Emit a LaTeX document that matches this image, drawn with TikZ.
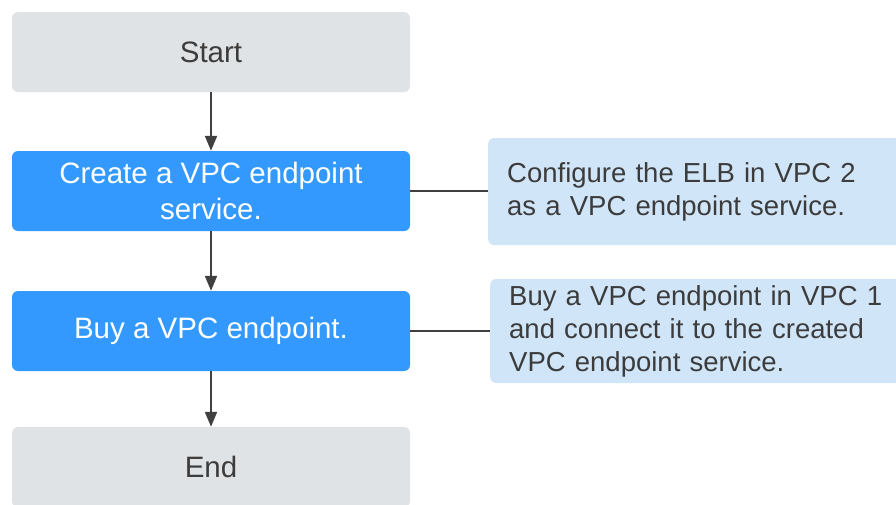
\documentclass[tikz,border=0pt]{standalone}
\usepackage{fontspec}
\setmainfont{Liberation Sans}
\usetikzlibrary{arrows.meta}
\definecolor{boxgray}{HTML}{E0E3E6}
\definecolor{stepblue}{HTML}{3399FF}
\definecolor{noteblue}{HTML}{D0E5F8}
\definecolor{txtgray}{HTML}{3C3C3C}
\definecolor{linegray}{HTML}{404040}
\tikzset{
  basebox/.style={rectangle, rounded corners=6pt, minimum width=398pt, minimum height=80pt, inner sep=0pt, align=center, font=\fontsize{29.5}{36}\selectfont},
  endbox/.style={basebox, fill=boxgray, text=txtgray},
  stepbox/.style={basebox, fill=stepblue, text=white},
  notebox/.style={rectangle, rounded corners=6pt, fill=noteblue, text=txtgray, align=left, inner xsep=19pt, inner ysep=0pt, text width=390pt, font=\fontsize{27.5}{33}\selectfont},
  flowarrow/.style={draw=linegray, line width=2pt, -{Triangle[length=15pt,width=12pt]}},
  noteline/.style={draw=linegray, line width=1.5pt}
}
\begin{document}
\begin{tikzpicture}[x=1pt,y=-1pt]
\useasboundingbox (0,0) rectangle (896,504);
\clip (0,0) rectangle (896,504);
\node[endbox] (start) at (211,52) {Start};
\node[stepbox] (create) at (211,191) {Create a VPC endpoint\\service.};
\node[stepbox] (buy) at (211,331) {Buy a VPC endpoint.};
\node[endbox] (end) at (211,467) {End};
\node[notebox, minimum height=107pt, anchor=west] (note1) at (488,191.5) {Configure the ELB in VPC 2\\as a VPC endpoint service.};
\node[notebox, minimum height=104pt, anchor=west] (note2) at (490,331) {Buy a VPC endpoint in VPC 1\\and connect it to the created\\VPC endpoint service.};
\draw[flowarrow] (start) -- (create);
\draw[flowarrow] (create) -- (buy);
\draw[flowarrow] (buy) -- (end);
\draw[noteline] (create.east) -- (create.east -| note1.west);
\draw[noteline] (buy.east) -- (buy.east -| note2.west);
\end{tikzpicture}
\end{document}
